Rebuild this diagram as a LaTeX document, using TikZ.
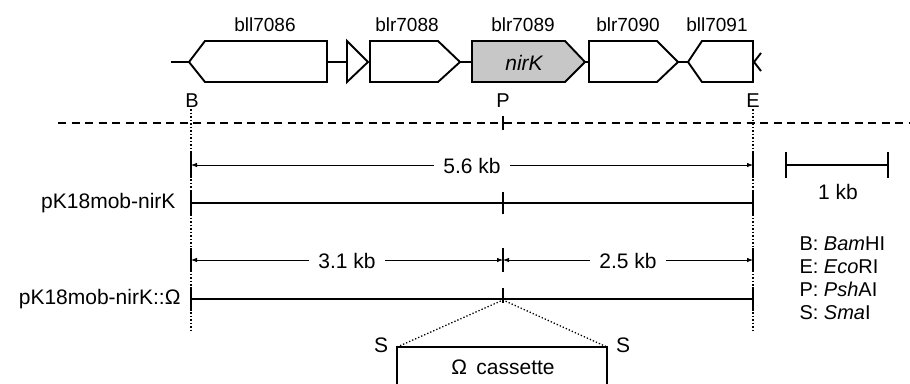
\documentclass[tikz,border=0pt]{standalone}
\usepackage{fontspec}
\setmainfont{Liberation Sans}
\usetikzlibrary{arrows.meta}
\begin{document}
\begin{tikzpicture}[x=1pt,y=-1pt,
  gene/.style={draw=black,line width=1.9pt,line join=miter,fill=white},
  genelbl/.style={font=\fontsize{19}{22}\selectfont,anchor=base},
  site/.style={font=\fontsize{20}{23}\selectfont,anchor=base},
  txt/.style={font=\fontsize{21}{24}\selectfont},
  leg/.style={font=\fontsize{20}{23}\selectfont,anchor=base west},
  dimline/.style={line width=0.8pt,-{Latex[length=6pt,width=4.5pt]}},
  construct/.style={line width=1.9pt},
  tick/.style={line width=1.9pt},
  vdot/.style={line width=1.5pt,dotted}]
\useasboundingbox (0,0) rectangle (910,383);
% backbone
\draw[construct] (171,62) -- (189,62);
\draw[construct] (327,62) -- (347,62);
\draw[construct] (460,62) -- (472,62);
\draw[construct] (585,62) -- (589,62);
\draw[construct] (678,62) -- (688,62);
% genes
\draw[gene] (189,62) -- (205,41) -- (327,41) -- (327,82) -- (205,82) -- cycle;
\draw[gene] (347,41) -- (368,62) -- (347,82) -- cycle;
\draw[gene] (370,41) -- (438,41) -- (460,62) -- (438,82) -- (370,82) -- cycle;
\draw[gene,fill=black!22] (472,41) -- (565,41) -- (585,62) -- (565,82) -- (472,82) -- cycle;
\draw[gene] (589,41) -- (657,41) -- (678,62) -- (657,82) -- (589,82) -- cycle;
\draw[gene] (688,62) -- (702,41) -- (753,41) -- (753,82) -- (702,82) -- cycle;
\draw[construct] (761,53) -- (754,62) -- (761,71);
\node[txt,font=\fontsize{21}{24}\selectfont\itshape] (nirk) at (524,63) {nirK};
% gene labels
\node[genelbl] (g1) at (265,31) {bll7086};
\node[genelbl] (g2) at (407,31) {blr7088};
\node[genelbl] (g3) at (523,31) {blr7089};
\node[genelbl] (g4) at (628,31) {blr7090};
\node[genelbl] (g5) at (717,31) {bll7091};
% sites
\node[site] (lB) at (192,107) {B};
\node[site] (lP) at (503,107) {P};
\node[site] (lE) at (753,107) {E};
% dashed separator
\draw[line width=1.8pt,dash pattern=on 8pt off 5.5pt] (58,123) -- (910,123);
\draw[tick] (503,116) -- (503,130);
% dotted verticals
\draw[vdot] (191,109) -- (191,332);
\draw[vdot] (753,109) -- (753,332);
% 5.6 kb
\draw[tick] (191,152) -- (191,178);
\draw[tick] (753,152) -- (753,178);
\node[txt] (d56) at (472,166) {5.6 kb};
\draw[dimline] (d56.west) ++(-6,-1) -- (191,165);
\draw[dimline] (d56.east) ++(6,-1) -- (753,165);
% pK18mob-nirK
\node[txt,anchor=east] (c1) at (179,203) {pK18mob-nirK};
\draw[construct] (191,203) -- (753,203);
\draw[tick] (191,190) -- (191,216);
\draw[tick] (753,190) -- (753,216);
\draw[tick] (503,192) -- (503,214);
% 3.1 / 2.5 kb
\draw[tick] (191,248) -- (191,272);
\draw[tick] (753,248) -- (753,272);
\draw[tick] (503,248) -- (503,272);
\node[txt] (d31) at (347,261) {3.1 kb};
\node[txt] (d25) at (628,261) {2.5 kb};
\draw[dimline] (d31.west) ++(-6,-1) -- (191,260);
\draw[dimline] (d31.east) ++(6,-1) -- (503,260);
\draw[dimline] (d25.west) ++(-6,-1) -- (503,260);
\draw[dimline] (d25.east) ++(6,-1) -- (753,260);
% pK18mob-nirK::Omega
\node[txt,anchor=east] (c2) at (184,299) {pK18mob-nirK::Ω};
\draw[construct] (191,299) -- (753,299);
\draw[tick] (191,287) -- (191,311);
\draw[tick] (753,287) -- (753,311);
\draw[tick] (503,288) -- (503,303);
\coordinate (ins) at (503,300);
% cassette
\coordinate (cl) at (397,347);
\coordinate (cr) at (607,347);
\draw[construct] (397,390) -- (cl) -- (cr) -- (607,390);
\draw[line width=1.3pt,dotted] (cl) -- (ins) -- (cr);
\node[txt] (cas) at (503,367) {Ω\, cassette};
\node[site,font=\fontsize{21}{24}\selectfont] (s1) at (381,352) {S};
\node[site,font=\fontsize{21}{24}\selectfont] (s2) at (623,352) {S};
% scale bar
\draw[construct] (786,165) -- (888,165);
\draw[tick] (786,152) -- (786,178);
\draw[tick] (888,152) -- (888,178);
\node[txt] (kb) at (838,192) {1 kb};
% legend
\node[leg] (L1) at (796,250) {B: \textit{Bam}HI};
\node[leg] (L2) at (796,273) {E: \textit{Eco}RI};
\node[leg] (L3) at (796,296) {P: \textit{Psh}AI};
\node[leg] (L4) at (796,319) {S: \textit{Sma}I};
\end{tikzpicture}
\end{document}
